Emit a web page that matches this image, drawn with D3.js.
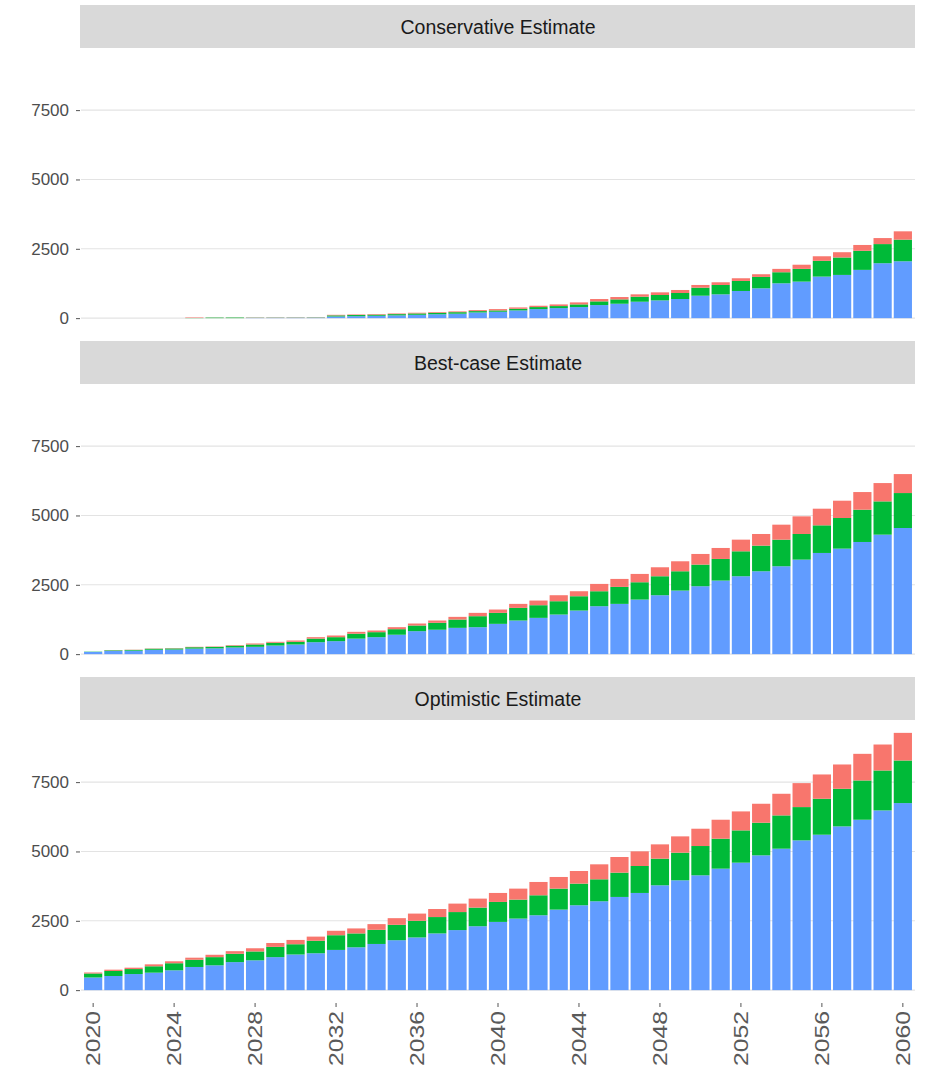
<!DOCTYPE html>
<html>
<head>
<meta charset="utf-8">
<script src="https://cdn.jsdelivr.net/npm/d3@7"></script>
<style>
  html, body { margin: 0; padding: 0; background: #ffffff; }
  svg { display: block; font-family: "Liberation Sans", Arial, sans-serif; }
</style>
</head>
<body>
<svg id="chart" width="938" height="1078"></svg>
<script>
// Years on the x axis
const years = [2020, 2021, 2022, 2023, 2024, 2025, 2026, 2027, 2028, 2029,
               2030, 2031, 2032, 2033, 2034, 2035, 2036, 2037, 2038, 2039,
               2040, 2041, 2042, 2043, 2044, 2045, 2046, 2047, 2048, 2049,
               2050, 2051, 2052, 2053, 2054, 2055, 2056, 2057, 2058, 2059, 2060];

const xTickLabels = ["2020", "2024", "2028", "2032", "2036", "2040", "2044", "2048", "2052", "2056", "2060"];
const yTicks = [0, 2500, 5000, 7500];

const panelTitles = ["Conservative Estimate", "Best-case Estimate", "Optimistic Estimate"];

// Stacked components per scenario (bottom: base, middle: mid, top: upper)
const conservativeBase = [0, 0, 0, 0, 0, 0, 0, 0, 10, 12, 14, 15, 60, 70, 85, 100, 120, 140, 160, 205,
                          230, 278, 326, 362, 399, 471, 519, 592, 640, 689, 809, 858, 979, 1075, 1256, 1317, 1498, 1558, 1740, 1980, 2050];
const conservativeMid  = [0, 0, 0, 0, 0, 5, 20, 22, 8, 8, 8, 10, 40, 42, 40, 45, 50, 52, 55, 49,
                          48, 60, 73, 73, 96, 133, 157, 181, 194, 217, 290, 338, 362, 411, 399, 459, 568, 629, 688, 690, 780];
const conservativeUpper = [0, 0, 0, 0, 0, 18, 3, 3, 8, 8, 8, 8, 20, 20, 22, 23, 25, 26, 28, 36,
                           48, 48, 48, 60, 73, 85, 85, 85, 96, 109, 97, 97, 97, 97, 121, 150, 165, 190, 210, 217, 300];

const bestBase  = [80, 115, 125, 158, 165, 200, 208, 240, 264, 310, 348, 430, 468, 560, 612, 700, 828, 880, 948, 972,
                   1092, 1212, 1308, 1428, 1572, 1728, 1812, 1968, 2124, 2292, 2448, 2652, 2808, 2988, 3168, 3408, 3648, 3804, 4044, 4308, 4548];
const bestMid   = [10, 22, 27, 36, 40, 50, 53, 64, 84, 100, 96, 130, 144, 176, 180, 200, 204, 250, 300, 396,
                   396, 456, 456, 480, 516, 540, 612, 624, 684, 696, 780, 780, 900, 924, 960, 924, 996, 1104, 1164, 1200, 1260];
const bestUpper = [0, 7, 8, 10, 11, 14, 15, 20, 36, 34, 48, 52, 60, 68, 60, 72, 72, 82, 96, 120,
                   120, 144, 168, 216, 180, 264, 288, 300, 324, 360, 384, 396, 420, 420, 540, 636, 600, 624, 636, 660, 684];

const optimisticBase  = [456, 510, 580, 630, 715, 835, 895, 1010, 1075, 1190, 1285, 1330, 1450, 1545, 1665, 1800, 1900, 2045, 2165, 2304,
                         2460, 2580, 2700, 2904, 3060, 3204, 3360, 3504, 3780, 3960, 4140, 4380, 4596, 4860, 5100, 5400, 5604, 5904, 6144, 6480, 6744];
const optimisticMid   = [144, 180, 180, 230, 255, 260, 295, 300, 320, 370, 370, 450, 530, 500, 510, 555, 600, 590, 650, 672,
                         720, 684, 720, 756, 780, 792, 876, 972, 960, 996, 1056, 1080, 1164, 1176, 1200, 1200, 1296, 1356, 1416, 1440, 1536];
const optimisticUpper = [36, 48, 50, 70, 70, 75, 85, 95, 115, 140, 155, 150, 160, 180, 205, 240, 260, 290, 305, 324,
                         324, 396, 480, 420, 456, 540, 564, 528, 516, 588, 624, 684, 684, 684, 780, 864, 876, 876, 960, 936, 996];

const seriesKeys = ["base", "mid", "upper"];
const seriesColors = { base: "#619CFF", mid: "#00BA38", upper: "#F8766D" };

const scenarios = [
  { title: panelTitles[0], base: conservativeBase, mid: conservativeMid, upper: conservativeUpper },
  { title: panelTitles[1], base: bestBase, mid: bestMid, upper: bestUpper },
  { title: panelTitles[2], base: optimisticBase, mid: optimisticMid, upper: optimisticUpper }
];

// Layout
const panelLeft = 81, panelRight = 915;
const stripTop0 = 5, stripH = 43, panelH = 283, panelStride = 336;

const svg = d3.select("#chart");

const x = d3.scaleBand()
  .domain(years)
  .range([panelLeft, panelRight])
  .paddingInner(0.1)
  .paddingOuter(0.15);

// Shared y scale (fixed across facets) with 5% expansion on both ends
const maxTotal = d3.max(scenarios, s => d3.max(years, (_, i) => s.base[i] + s.mid[i] + s.upper[i]));
const pad = maxTotal * 0.05;

const stack = d3.stack().keys(seriesKeys);

scenarios.forEach((sc, p) => {
  const stripTop = stripTop0 + p * panelStride;
  const panelTop = stripTop + stripH;

  const y = d3.scaleLinear()
    .domain([-pad, maxTotal + pad])
    .range([panelTop + panelH, panelTop]);

  const g = svg.append("g");

  // Strip header
  g.append("rect")
    .attr("x", panelLeft - 1).attr("y", stripTop)
    .attr("width", panelRight - panelLeft + 1).attr("height", stripH)
    .attr("fill", "#d9d9d9");
  g.append("text")
    .attr("x", (panelLeft + panelRight) / 2)
    .attr("y", stripTop + stripH / 2 + 1)
    .attr("dy", "0.35em")
    .attr("text-anchor", "middle")
    .attr("font-size", 19.5)
    .attr("fill", "#1a1a1a")
    .text(sc.title);

  // Horizontal grid lines
  g.append("g").selectAll("line")
    .data(yTicks)
    .join("line")
    .attr("x1", panelLeft).attr("x2", panelRight)
    .attr("y1", d => y(d)).attr("y2", d => y(d))
    .attr("stroke", "#e3e3e3")
    .attr("stroke-width", 1.1);

  // Y axis
  const yAxis = d3.axisLeft(y).tickValues(yTicks).tickFormat(d3.format("d")).tickSize(4).tickPadding(7);
  const ya = g.append("g")
    .attr("transform", `translate(${panelLeft - 1},0)`)
    .call(yAxis);
  ya.select(".domain").remove();
  ya.selectAll(".tick line").attr("stroke", "#555555");
  ya.selectAll(".tick text")
    .attr("font-size", 17)
    .attr("fill", "#4d4d4d")
    .attr("font-family", "Liberation Sans, Arial, sans-serif");

  // Stacked bars
  const rows = years.map((yr, i) => ({ year: yr, base: sc.base[i], mid: sc.mid[i], upper: sc.upper[i] }));
  const layers = stack(rows);

  g.append("g").selectAll("g")
    .data(layers)
    .join("g")
    .attr("fill", d => seriesColors[d.key])
    .selectAll("rect")
    .data(d => d)
    .join("rect")
    .attr("x", d => x(d.data.year))
    .attr("width", x.bandwidth())
    .attr("y", d => y(d[1]))
    .attr("height", d => Math.max(0, y(d[0]) - y(d[1])));

  // X axis on the bottom facet only
  if (p === scenarios.length - 1) {
    const tickYears = xTickLabels.map(Number);
    const xAxis = d3.axisBottom(x).tickValues(tickYears).tickSize(4).tickPadding(4);
    const xa = g.append("g")
      .attr("transform", `translate(0,${panelTop + panelH})`)
      .call(xAxis);
    xa.select(".domain").remove();
    xa.selectAll(".tick line").attr("stroke", "#555555");
    xa.selectAll(".tick text")
      .attr("font-size", 20)
      .attr("fill", "#5a5a5a")
      .attr("font-family", "Liberation Sans, Arial, sans-serif")
      .attr("text-anchor", "end")
      .attr("transform", "rotate(-90)")
      .attr("x", -8)
      .attr("y", 0)
      .attr("dy", "0.35em")
      .attr("textLength", 55)
      .attr("lengthAdjust", "spacingAndGlyphs");
  }
});
</script>
</body>
</html>
